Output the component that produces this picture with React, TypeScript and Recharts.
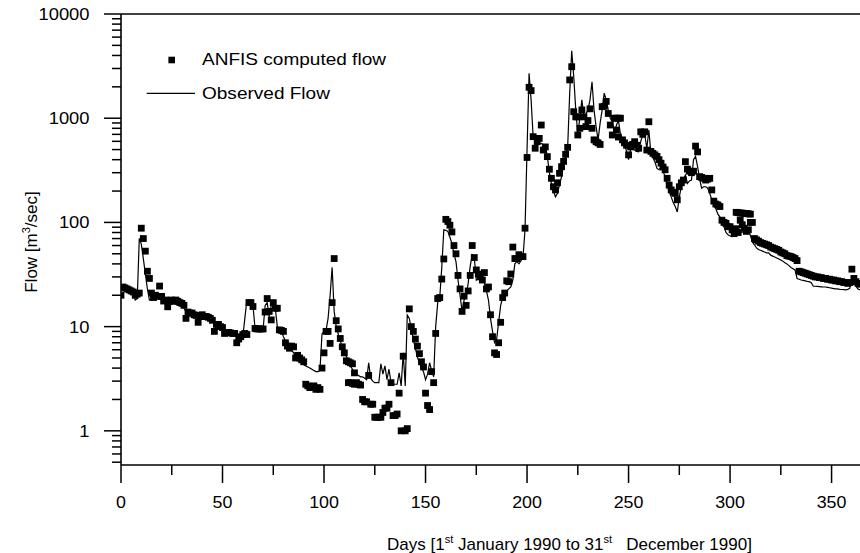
import React from 'react';
import { ComposedChart, Line, Scatter, XAxis, YAxis, ReferenceLine } from 'recharts';

// Observed flow, one value per day (day 0 .. 364)
const observedFlow: number[] = [
  24, 23.5, 23, 22.5, 22, 21.5, 20.5, 18, 18.5, 70,
  62, 45, 32, 23, 18, 18.5, 19, 19, 18.5, 19,
  18.5, 18, 18, 17.5, 17.5, 17, 17, 17, 16.5, 16.5,
  16.5, 15, 14, 13.8, 13.6, 13.4, 13.3, 13.2, 13, 13,
  12.9, 12.7, 12.5, 12.3, 12, 11.4, 10.8, 10.4, 10, 9.8,
  9.6, 9.4, 9.2, 9, 8.8, 8.6, 8.3, 8.2, 8.3, 8.2,
  8, 12, 18, 17.5, 17, 16, 9.7, 9.6, 9.5, 9.5,
  9.5, 16, 17, 12.5, 16, 17, 15, 10, 9.5, 9.2,
  8, 7.3, 6.8, 6.4, 6, 5.6, 5.1, 4.9, 4.7, 4.5,
  4.3, 4.2, 4.1, 4, 3.9, 3.8, 3.7, 3.7, 3.8, 8.5,
  9, 9.2, 12, 20, 37, 14, 10, 8.5, 7.3, 6.4,
  5.8, 5.2, 4.6, 4.2, 3.9, 3.6, 3.5, 3.4, 3.3, 3.3,
  3.2, 3.1, 4.5, 3.2, 3.0, 2.9, 2.9, 2.9, 4.4, 3.5,
  4.2, 3.1, 3.9, 2.9, 2.8, 2.8, 2.8, 3.6, 2.7, 5.6,
  2.7, 12.9, 12, 9.5, 7.5, 6.2, 5.1, 4.5, 4.0, 3.7,
  3.1, 3.5, 4.5, 3.8, 3.3, 10, 17, 19, 37, 85,
  84, 82, 72, 63, 50, 42, 28, 20, 14, 18,
  20, 26, 38, 49, 46, 28, 29, 30, 30, 26,
  22, 18, 12, 9, 7, 7.5, 11, 16, 19, 20,
  22, 23, 24, 28, 40, 42, 40, 43, 46, 85,
  500, 2700, 1500, 665, 600, 590, 580, 570, 560, 540,
  430, 300, 237, 200, 176, 190, 230, 275, 350, 430,
  520, 1730, 4440, 2500, 1200, 710, 1000, 1500, 1030, 1100,
  1200, 1500, 2240, 1200, 830, 620, 900, 1200, 1740, 1500,
  1200, 1000, 925, 740, 850, 960, 700, 620, 575, 480,
  400, 500, 530, 495, 480, 475, 600, 690, 690, 515,
  770, 460, 420, 380, 330, 320, 343, 310, 275, 225,
  200, 176, 155, 142, 126, 176, 220, 260, 285, 237,
  250, 255, 400, 430, 343, 260, 213, 220, 220, 213,
  190, 165, 150, 135, 120, 113, 100, 91, 80, 76,
  74, 73, 76, 79, 77, 80, 81, 80, 82, 85,
  75, 65, 61, 57, 55, 54, 53, 52, 51, 51,
  48.5, 47.5, 46.5, 45.5, 44.5, 43.5, 42.5, 41, 40, 38.5,
  37, 36, 35, 29, 28.5, 28, 27.8, 27.5, 27.2, 27,
  26.4, 24.4, 24.4, 24.3, 24.2, 24.1, 24, 24, 23.8, 23.6,
  23.4, 23.2, 23, 23, 22.8, 22.7, 22.6, 22.5, 22.8, 23.4,
  30, 27, 24.4, 23, 22.5,
];

// ANFIS computed flow, one value per day (day 0 .. 364)
const anfisFlow: number[] = [
  20, 24, 23.5, 23, 22.5, 22, 21.5, 20, 20.5, 21,
  88, 70, 53, 34, 29, 21, 19, 20, 19.5, 24.5,
  19.5, 17.6, 18, 15.5, 17.5, 18, 17.5, 18, 17.5, 17,
  16.7, 16, 12, 13.8, 13.5, 13.5, 13, 12.8, 11, 12.5,
  13, 12.5, 12.5, 12.3, 12, 11.5, 9, 10.5, 10.5, 10,
  9.8, 8.6, 8.8, 8.8, 8.7, 8.6, 8.6, 7.0, 7.6, 8.0,
  8.4, 8.6, 8.4, 17, 17, 15.6, 9.6, 9.5, 9.5, 9.5,
  9.5, 13.8, 18.6, 14, 11.6, 17, 15, 15, 9.3, 9.2,
  9, 7, 6.5, 6.2, 6.5, 6.4, 5.0, 5.3, 5.0, 4.8,
  4.6, 2.8, 2.7, 2.6, 2.6, 2.7, 2.5, 2.6, 2.5, 4.0,
  5.6, 9, 9, 6.9, 17, 45, 11.4, 9.5, 7.7, 6.4,
  5.6, 4.7, 4.6, 4.5, 4.4, 3.6, 2.9, 2.8, 2.75, 2.0,
  1.9, 1.9, 3.4, 1.8, 1.8, 1.35, 1.35, 1.35, 1.35, 1.5,
  1.65, 1.65, 1.8, 2.9, 1.4, 1.4, 1.45, 2.3, 1.0, 5.2,
  1.0, 1.05, 14.8, 10, 9, 7.6, 6.5, 5.5, 4.6, 4.1,
  2.3, 1.75, 1.6, 3.7, 2.9, 8.6, 18.6, 19, 28.6, 44.6,
  107, 102, 94, 81, 60, 50, 31, 23, 14, 19.6,
  16, 22, 31, 60, 46, 35, 32, 30, 28, 33,
  23, 24, 13, 8, 5.6, 5.4, 7, 11, 19, 21,
  27.5, 27, 32, 58, 45, 45, 49, 47, 47, 88,
  420, 1980, 1840, 665, 515, 595, 640, 860, 495, 530,
  428, 324, 265, 220, 205, 240, 296, 343, 385, 450,
  525, 2330, 3120, 1155, 1030, 690, 800, 1200, 1030, 830,
  950, 1230, 800, 620, 595, 580, 560, 1290, 1300, 1450,
  1110, 860, 690, 1000, 770, 660, 1000, 620, 580, 550,
  445, 530, 560, 595, 550, 515, 740, 700, 740, 495,
  925, 480, 460, 445, 430, 400, 370, 340, 320, 265,
  228, 205, 195, 190, 165, 220, 240, 255, 383, 325,
  310, 300, 310, 540, 475, 275, 270, 265, 255, 260,
  265, 205, 160, 150, 147, 142, 105, 100, 98, 91,
  91, 85, 78, 87, 80, 105, 95, 88, 82, 85,
  100, 100, 70, 68, 66, 64, 63, 62, 61, 60,
  58, 57, 56, 55, 54, 52, 51, 50, 48, 47.5,
  47, 46, 45, 43, 34, 33.5, 33, 32.5, 32, 31.5,
  31, 30.5, 30, 30, 29.5, 29.5, 29, 29, 28.5, 28.5,
  28, 28, 27.5, 27.5, 27, 27, 26.5, 26.5, 26, 26.5,
  35.6, 29, 27, 26, 25.5,
];

// Additional ANFIS points that sit on the same days as others
const anfisExtraDays: number[] = [112, 113, 114, 115, 225, 244, 245, 303, 304, 305, 306, 307, 308, 309, 310];
const anfisExtraFlow: number[] = [2.9, 2.9, 2.85, 2.8, 1030, 1000, 1000, 125, 124, 123, 123, 122, 122, 121, 120];

const xTicks: number[] = [0, 25, 50, 75, 100, 125, 150, 175, 200, 225, 250, 275, 300, 325, 350];
const xLabelTicks: number[] = [0, 50, 100, 150, 200, 250, 300, 350];
const yMajorTicks: number[] = [1, 10, 100, 1000, 10000];
const yMinorMultipliers: number[] = [2, 3, 4, 5, 6, 7, 8, 9];

const yTicks: number[] = [0.5, 0.6, 0.7, 0.8, 0.9];
yMajorTicks.forEach((m) => {
  yTicks.push(m);
  if (m < 10000) yMinorMultipliers.forEach((k) => yTicks.push(m * k));
});

const obsRows = observedFlow.map((v, i) => ({ day: i, flow: v }));
const anfisRows = anfisFlow
  .map((v, i) => ({ day: i, flow: v }))
  .concat(anfisExtraDays.map((d, i) => ({ day: d, flow: anfisExtraFlow[i] })));

const FONT = '"Liberation Sans", Arial, Helvetica, sans-serif';

const XTick = (props: any) => {
  const { x, y, payload } = props;
  const v = payload.value;
  const major = xLabelTicks.includes(v);
  return (
    <g transform={`translate(${x},${y})`}>
      <line x1={0} y1={0} x2={0} y2={major ? 18 : 10} stroke="#000" strokeWidth={1.5} />
      {major && (
        <g transform="scale(1.05,1)">
          <text x={0} y={43} textAnchor="middle" fontSize={17} fontFamily={FONT} fill="#000">
            {v}
          </text>
        </g>
      )}
    </g>
  );
};

const YTick = (props: any) => {
  const { x, y, payload } = props;
  const v = payload.value;
  const major = yMajorTicks.includes(v);
  return (
    <g transform={`translate(${x},${y})`}>
      <line x1={major ? -17 : -9} y1={0} x2={0} y2={0} stroke="#000" strokeWidth={1.5} />
      {major && (
        <g transform="scale(1.08,1)">
          <text x={-31.5 / 1.08} y={6} textAnchor="end" fontSize={17} fontFamily={FONT} fill="#000">
            {v}
          </text>
        </g>
      )}
    </g>
  );
};

const Square = (props: any) => {
  const { cx, cy } = props;
  if (cx == null || cy == null) return null;
  return <rect x={cx - 3.4} y={cy - 3.4} width={6.8} height={6.8} fill="#000" />;
};

export default function App() {
  return (
    <div style={{ position: 'absolute', left: 0, top: 0, width: 860, height: 553, background: '#fff', overflow: 'hidden' }}>
      <ComposedChart width={860} height={553} margin={{ top: 14, right: 0, bottom: 0, left: 0 }}>
        <XAxis
          type="number"
          dataKey="day"
          domain={[0, 364]}
          ticks={xTicks}
          interval={0}
          tickSize={0}
          tickMargin={0}
          tickLine={false}
          tick={(p: any) => <XTick {...p} />}
          axisLine={{ stroke: '#000', strokeWidth: 1.6 }}
          height={88}
          allowDataOverflow
        />
        <YAxis
          type="number"
          scale="log"
          domain={[0.47, 10000]}
          ticks={yTicks}
          interval={0}
          tickSize={0}
          tickMargin={0}
          tickLine={false}
          tick={(p: any) => <YTick {...p} />}
          axisLine={{ stroke: '#000', strokeWidth: 1.6 }}
          width={121}
          allowDataOverflow
        />
        <ReferenceLine y={10000} stroke="#000" strokeWidth={1.6} />
        <Line
          data={obsRows}
          dataKey="flow"
          type="linear"
          stroke="#000"
          strokeWidth={1.2}
          dot={false}
          activeDot={false}
          isAnimationActive={false}
        />
        <Scatter data={anfisRows} dataKey="flow" shape={(p: any) => <Square {...p} />} isAnimationActive={false} />
      </ComposedChart>
      <svg width={860} height={553} style={{ position: 'absolute', left: 0, top: 0, pointerEvents: 'none' }}>
        <rect x={168.4} y={56.7} width={6.6} height={6.6} fill="#000" />
        <g transform="translate(202,65) scale(1.12,1)">
          <text x={0} y={0} fontSize={17} fontFamily={FONT} fill="#000">ANFIS computed flow</text>
        </g>
        <line x1={146.7} y1={93.3} x2={195} y2={93.3} stroke="#000" strokeWidth={1.2} />
        <g transform="translate(202,98.5) scale(1.12,1)">
          <text x={0} y={0} fontSize={17} fontFamily={FONT} fill="#000">Observed Flow</text>
        </g>
        <text x={387} y={550} fontSize={17} fontFamily={FONT} fill="#000">
          Days [1<tspan fontSize={11} dy={-7}>st</tspan>
          <tspan dy={7}> January 1990 to 31</tspan>
          <tspan fontSize={11} dy={-7}>st</tspan>
          <tspan dy={7}>{'\u00A0\u00A0\u00A0December 1990]'}</tspan>
        </text>
        <text transform="translate(37,242) rotate(-90)" textAnchor="middle" fontSize={17} fontFamily={FONT} fill="#000">
          Flow [m<tspan fontSize={11} dy={-7}>3</tspan>
          <tspan dy={7}>/sec]</tspan>
        </text>
      </svg>
    </div>
  );
}
